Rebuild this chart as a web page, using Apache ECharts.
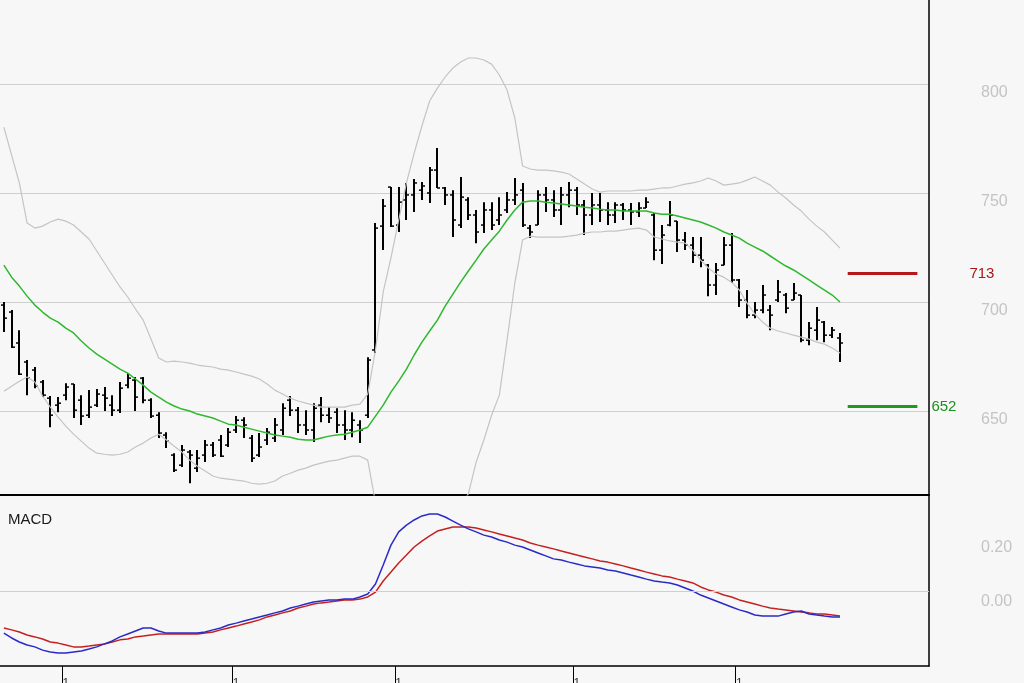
<!DOCTYPE html>
<html><head><meta charset="utf-8">
<script src="https://cdn.jsdelivr.net/npm/echarts@6/dist/echarts.min.js"></script>
<style>html,body{margin:0;padding:0;background:#f7f7f7;overflow:hidden}#c{width:1024px;height:683px}</style>
</head><body><div id="c"></div>
<script>
// [open, close, low, high]
const ohlc = [
[698.6,692.6,686.2,700.0],[695.4,679.3,678.9,696.3],[681.2,666.9,666.5,687.1],[672.5,665.1,657.3,673.4],[668.8,661.4,660.5,670.2],
[663.3,657.3,656.4,664.2],[655.9,648.1,642.6,656.9],[652.7,653.6,649.5,656.4],[657.3,661.0,655.0,662.8],[662.4,650.4,646.8,662.4],
[655.0,647.7,643.6,657.3],[648.1,651.8,646.8,659.6],[652.7,657.8,651.8,660.1],[657.3,655.9,650.0,661.0],[652.7,650.4,647.7,657.3],
[650.4,660.5,649.1,663.3],[661.9,665.1,660.5,667.4],[664.2,656.4,650.0,665.6],[665.1,655.0,653.6,665.6],[655.0,647.7,646.8,655.9],
[648.1,639.9,637.6,649.5],[639.0,636.2,633.0,640.3],[629.8,622.9,622.0,630.7],[625.2,632.1,624.3,634.4],[631.2,629.8,616.9,632.1],
[623.8,628.4,622.0,632.1],[629.8,634.4,626.6,636.7],[634.4,629.8,628.9,635.8],[636.7,629.3,628.9,639.0],[634.4,640.3,633.5,642.2],
[641.3,645.8,639.9,647.7],[645.8,643.6,637.6,647.2],[637.6,628.4,626.6,639.0],[629.8,633.5,628.9,639.9],[636.7,640.3,634.4,642.2],
[637.6,643.6,635.8,646.8],[641.3,651.3,639.0,653.6],[655.0,650.4,647.7,656.9],[650.4,643.6,639.9,651.8],[643.6,641.3,639.0,650.4],
[641.3,651.3,635.8,653.6],[652.7,648.1,644.9,656.4],[648.1,646.8,644.5,651.8],[649.5,643.6,639.9,651.3],[643.6,641.3,636.7,650.4],
[641.3,645.8,638.0,649.5],[643.6,641.3,635.3,645.8],[648.1,673.4,646.8,674.7],[678.0,733.9,676.6,736.2],[734.8,744.0,723.8,747.2],
[752.7,734.8,734.4,752.7],[735.3,745.8,732.1,752.7],[746.8,749.1,737.6,754.6],[749.1,754.6,741.3,756.4],[751.3,753.2,746.8,755.0],
[750.0,760.5,745.4,761.9],[760.5,752.3,752.3,770.6],[752.3,749.1,744.5,752.7],[749.1,737.6,729.8,751.3],[735.3,748.1,733.9,757.3],
[746.8,739.9,737.6,748.1],[739.9,732.1,727.0,742.2],[735.3,742.2,731.6,745.8],[742.2,735.3,733.0,745.8],[737.6,739.9,735.3,748.1],
[742.2,746.8,740.8,750.4],[746.8,749.1,744.5,756.9],[751.3,735.3,734.4,754.6],[733.9,732.1,729.3,735.3],[735.3,749.1,735.3,751.3],
[749.1,746.8,741.3,752.7],[746.8,742.2,739.0,751.3],[742.2,749.1,735.3,752.7],[749.1,751.3,743.5,755.0],[751.3,744.5,739.9,752.7],
[744.5,739.9,730.7,746.8],[739.9,744.5,735.3,750.0],[744.5,742.2,736.7,750.0],[742.2,739.9,735.3,745.8],[739.9,744.5,736.2,745.8],
[744.5,742.2,737.6,745.4],[742.2,741.3,735.3,745.4],[741.3,743.1,739.0,745.8],[743.1,745.8,743.1,748.1],[739.9,723.8,719.2,740.8],
[723.8,730.7,717.4,735.3],[735.3,739.9,734.8,746.3],[737.1,728.4,722.9,737.1],[728.4,726.1,723.8,732.1],[726.1,721.5,717.9,729.8],
[721.5,719.2,716.0,729.8],[716.9,707.8,702.7,717.4],[707.8,714.7,703.2,717.9],[716.9,726.1,716.9,729.8],[726.1,710.1,708.7,731.6],
[710.1,700.9,697.7,710.5],[700.9,694.0,692.6,705.5],[694.0,696.3,692.6,700.0],[696.3,703.2,694.9,707.8],[696.3,694.0,687.1,698.6],
[700.9,704.6,700.0,710.1],[703.2,697.2,694.9,704.1],[700.9,704.1,700.9,708.7],[703.2,682.5,681.6,703.2],[682.5,688.0,680.2,690.8],
[687.1,691.7,682.5,697.7],[690.8,684.8,681.6,691.3],[684.8,687.1,683.5,688.5],[683.5,681.2,672.5,685.8]
];
const ma20 = [716.9,711.4,707.3,702.7,698.6,695.4,692.6,690.8,688.0,685.8,
682.1,678.9,676.1,673.8,671.5,669.2,667.4,664.7,661.9,658.7,
656.4,654.1,652.3,650.9,650.0,648.6,647.7,646.8,645.4,644.0,
643.6,642.6,641.7,640.8,639.9,639.0,638.5,638.0,637.1,636.7,
636.7,637.6,638.5,639.0,639.4,640.3,641.3,642.6,647.7,652.7,
658.7,663.7,669.2,675.7,681.6,686.7,691.7,698.1,703.6,709.1,
714.2,719.2,724.3,728.4,732.5,737.6,742.2,745.8,746.3,746.3,
745.8,745.4,744.9,744.5,744.0,743.5,743.1,742.6,742.2,742.2,
741.7,741.7,741.7,741.7,740.8,740.3,740.3,739.4,738.5,737.6,
736.7,735.3,733.9,732.1,730.7,729.3,727.0,725.2,723.4,721.1,
718.8,716.5,714.7,712.4,710.1,707.8,705.5,703.2,700.0];
const bbUpper = [780.2,767.4,754.6,736.2,733.9,734.8,736.7,738.0,737.1,735.3,
732.1,728.9,723.4,717.9,712.4,706.9,702.3,696.8,691.7,683.0,
674.3,672.5,672.9,672.5,672.0,671.1,670.6,670.2,669.2,668.8,
667.9,666.9,666.0,664.7,662.4,659.6,657.8,655.9,654.6,653.6,
652.7,651.8,651.8,651.8,651.8,652.7,653.2,657.8,678.0,704.6,
720.2,737.6,754.6,768.3,780.7,792.2,798.1,803.2,807.3,810.1,
811.9,811.9,811.0,809.1,804.1,797.2,784.4,762.4,761.0,760.5,
760.5,760.1,759.6,758.7,756.4,754.1,751.8,750.4,750.9,750.9,
750.9,750.9,751.3,751.3,751.8,752.3,752.3,753.2,754.1,754.6,
755.5,756.9,755.5,753.6,754.1,754.6,755.9,757.3,755.5,753.6,
750.4,747.7,744.5,741.7,738.0,734.8,732.1,728.4,724.7];
const bbLower = [659.1,661.4,663.7,665.6,663.3,656.9,651.8,647.2,643.1,639.4,
636.2,633.0,630.7,630.2,629.8,630.2,631.2,633.5,635.3,637.6,
639.4,636.7,633.9,631.2,627.5,624.7,622.5,620.2,619.2,618.8,
618.3,617.9,616.9,616.5,616.9,617.9,620.2,621.5,622.9,623.8,
625.2,626.1,627.0,627.5,628.4,629.3,629.3,627.5,608.0,600.8,
597.0,590.0,584.0,583.0,582.5,581.0,585.0,593.0,600.0,607.0,
612.0,626.5,636.7,648.1,657.3,682.5,708.7,728.4,730.2,729.8,
729.8,729.8,729.8,730.2,730.7,731.6,732.1,732.1,732.5,732.5,
733.0,733.5,733.9,733.0,729.8,728.9,728.0,727.5,727.0,723.8,
719.2,715.6,712.8,711.4,709.1,705.5,699.5,694.5,690.8,688.0,
686.7,685.8,684.8,683.9,683.0,681.6,680.7,678.9,676.6];
const macdLine = [-0.156,-0.174,-0.189,-0.200,-0.207,-0.219,-0.226,-0.230,-0.230,-0.226,
-0.222,-0.215,-0.207,-0.196,-0.185,-0.170,-0.159,-0.148,-0.137,-0.137,
-0.148,-0.156,-0.156,-0.156,-0.156,-0.156,-0.152,-0.144,-0.137,-0.126,
-0.119,-0.111,-0.104,-0.096,-0.089,-0.081,-0.074,-0.063,-0.056,-0.048,
-0.041,-0.037,-0.033,-0.033,-0.030,-0.030,-0.022,-0.011,0.026,0.096,
0.170,0.219,0.244,0.263,0.278,0.285,0.285,0.274,0.259,0.244,
0.230,0.219,0.207,0.200,0.189,0.181,0.170,0.163,0.152,0.141,
0.130,0.119,0.115,0.107,0.100,0.093,0.089,0.085,0.078,0.074,
0.067,0.059,0.052,0.044,0.037,0.033,0.030,0.022,0.011,0.000,
-0.015,-0.026,-0.037,-0.048,-0.059,-0.070,-0.078,-0.089,-0.093,-0.093,
-0.093,-0.085,-0.078,-0.074,-0.085,-0.089,-0.093,-0.096,-0.096];
const signalLine = [-0.137,-0.144,-0.152,-0.163,-0.170,-0.178,-0.189,-0.193,-0.200,-0.207,
-0.207,-0.204,-0.200,-0.196,-0.189,-0.181,-0.178,-0.170,-0.167,-0.163,
-0.159,-0.159,-0.159,-0.159,-0.159,-0.159,-0.156,-0.152,-0.144,-0.137,
-0.130,-0.122,-0.115,-0.107,-0.096,-0.089,-0.081,-0.074,-0.063,-0.056,
-0.048,-0.044,-0.041,-0.037,-0.033,-0.033,-0.030,-0.022,-0.004,0.037,
0.070,0.104,0.133,0.163,0.185,0.204,0.222,0.230,0.237,0.237,
0.237,0.233,0.226,0.219,0.211,0.204,0.196,0.189,0.178,0.170,
0.163,0.156,0.148,0.141,0.133,0.126,0.119,0.111,0.107,0.100,
0.093,0.085,0.078,0.070,0.063,0.056,0.052,0.044,0.037,0.030,
0.015,0.004,-0.004,-0.015,-0.022,-0.033,-0.041,-0.048,-0.056,-0.063,
-0.067,-0.070,-0.074,-0.078,-0.081,-0.085,-0.085,-0.089,-0.093];
const priceTicks = [650, 700, 750, 800];
const macdTicks = [0, 0.2];
const resistance = 713;
const support = 652;
const levelSpan = [109, 118];
const monthTickIdx = [8, 30, 51, 74, 95];
const monthLabels = ['1', '1', '1', '1', '1'];
const nSlots = 120;
const cats = Array.from({length: nSlots}, (_, i) => String(i + 1));

const chart = echarts.init(document.getElementById('c'), null, {renderer: 'canvas'});
const gridColor = '#cfcfcf';
const labelColor = '#c4c4c4';
const bandColor = '#c4c4c4';

function renderOHLC(params, api) {
  const i = api.value(0);
  const o = api.coord([i, api.value(1)]);
  const c = api.coord([i, api.value(2)]);
  const l = api.coord([i, api.value(3)]);
  const h = api.coord([i, api.value(4)]);
  const x = Math.round(h[0]);
  return {type: 'group', children: [
    {type: 'line', shape: {x1: x, y1: h[1], x2: x, y2: l[1]}, style: {stroke: '#000', lineWidth: 2}},
    {type: 'line', shape: {x1: x - 3, y1: o[1], x2: x, y2: o[1]}, style: {stroke: '#000', lineWidth: 1.5}},
    {type: 'line', shape: {x1: x, y1: c[1], x2: x + 3, y2: c[1]}, style: {stroke: '#000', lineWidth: 1.5}}
  ]};
}

// month boundary ticks below the MACD panel
function renderMonthTick(params, api) {
  const p = api.coord([api.value(0), 0]);
  const half = api.size([1, 0])[0] / 2;
  const x = Math.round(p[0] - half) + 0.5;
  const yb = params.coordSys.y + params.coordSys.height;
  return {type: 'line', shape: {x1: x, y1: yb, x2: x, y2: yb + 17}, style: {stroke: '#000', lineWidth: 1}};
}

const lvlLabel = (value, color, dist, padTop) => ({show: true, position: 'end', distance: dist, color: color,
  fontSize: 15, fontFamily: 'Liberation Sans', padding: [padTop, 0, 0, 0], formatter: () => String(value)});

chart.setOption({
  animation: false,
  backgroundColor: '#f7f7f7',
  title: {text: 'MACD', left: 3, top: 507, textStyle: {fontSize: 15, fontWeight: 'normal', color: '#1a1a1a', fontFamily: 'Liberation Sans'}},
  grid: [
    {left: 0, right: 95, top: 0, height: 495, outerBoundsMode: 'none', containLabel: false},
    {left: 0, right: 95, top: 495, height: 171, outerBoundsMode: 'none', containLabel: false}
  ],
  xAxis: [
    {type: 'category', gridIndex: 0, data: cats, boundaryGap: true,
      axisLine: {show: true, onZero: false, lineStyle: {color: '#000', width: 2}}, axisTick: {show: false}, axisLabel: {show: false}, splitLine: {show: false}},
    {type: 'category', gridIndex: 1, data: cats, boundaryGap: true,
      axisLine: {show: true, onZero: false, lineStyle: {color: '#000', width: 1.5}},
      axisTick: {show: false},
      axisLabel: {show: true, interval: (idx) => monthTickIdx.includes(idx), margin: 12, color: '#333', fontSize: 12,
        formatter: (v, idx) => { const k = monthTickIdx.indexOf(idx); return k >= 0 ? monthLabels[k] : ''; }},
      splitLine: {show: false}}
  ],
  yAxis: [
    {type: 'value', gridIndex: 0, position: 'right', min: 611.5, max: 838.5,
      axisLine: {show: true, onZero: false, lineStyle: {color: '#000', width: 1.5}}, axisTick: {show: false}, splitLine: {show: false},
      axisLabel: {margin: 52, color: labelColor, fontSize: 16, lineHeight: 18, fontFamily: 'Liberation Sans', verticalAlign: 'top',
        formatter: v => priceTicks.includes(Math.round(v * 1000) / 1000) ? String(v) : ''}},
    {type: 'value', gridIndex: 1, position: 'right', min: -0.2778, max: 0.3556,
      axisLine: {show: true, onZero: false, lineStyle: {color: '#000', width: 1.5}}, axisTick: {show: false}, splitLine: {show: false},
      axisLabel: {margin: 52, color: labelColor, fontSize: 16, lineHeight: 22, fontFamily: 'Liberation Sans', verticalAlign: 'top',
        formatter: v => { const r = Math.round(v * 1000) / 1000; return macdTicks.includes(r) ? r.toFixed(2) : ''; }}}
  ],
  series: [
    {name: 'BB upper', type: 'line', xAxisIndex: 0, yAxisIndex: 0, data: bbUpper, showSymbol: false, z: 6,
      lineStyle: {color: bandColor, width: 1.2}, silent: true,
      markLine: {silent: true, symbol: ['none', 'none'], label: {show: false}, z: 0,
        lineStyle: {color: gridColor, width: 1, type: 'solid'}, data: priceTicks.map(v => ({yAxis: v}))}},
    {name: 'BB lower', type: 'line', xAxisIndex: 0, yAxisIndex: 0, data: bbLower, showSymbol: false, z: 6,
      lineStyle: {color: bandColor, width: 1.2}, silent: true},
    {name: 'MA', type: 'line', xAxisIndex: 0, yAxisIndex: 0, data: ma20, showSymbol: false, z: 7,
      lineStyle: {color: '#2eb82e', width: 1.5}, silent: true,
      markLine: {silent: true, symbol: ['none', 'none'],
        data: [
          [{coord: [cats[levelSpan[0]], resistance], lineStyle: {color: '#b51a1a', width: 3, type: 'solid'}, label: lvlLabel(resistance, '#a81818', 52, 12)},
           {coord: [cats[levelSpan[1]], resistance]}],
          [{coord: [cats[levelSpan[0]], support], lineStyle: {color: '#1f9a1f', width: 3, type: 'solid'}, label: lvlLabel(support, '#1f8f1f', 14, 11)},
           {coord: [cats[levelSpan[1]], support]}]
        ]}},
    {name: 'OHLC', type: 'custom', xAxisIndex: 0, yAxisIndex: 0, z: 5, renderItem: renderOHLC,
      encode: {x: 0, y: [1, 2, 3, 4]}, data: ohlc.map((d, i) => [i, d[0], d[1], d[2], d[3]])},
    {name: 'Signal', type: 'line', xAxisIndex: 1, yAxisIndex: 1, data: signalLine, showSymbol: false, z: 3,
      lineStyle: {color: '#c42020', width: 1.5}, silent: true,
      markLine: {silent: true, symbol: ['none', 'none'], label: {show: false},
        lineStyle: {color: gridColor, width: 1, type: 'solid'}, data: [{yAxis: 0}]}},
    {name: 'MACD', type: 'line', xAxisIndex: 1, yAxisIndex: 1, data: macdLine, showSymbol: false, z: 4,
      lineStyle: {color: '#2a2ac8', width: 1.5}, silent: true},
    {name: 'Month ticks', type: 'custom', xAxisIndex: 1, yAxisIndex: 1, clip: false, silent: true, z: 8,
      renderItem: renderMonthTick, encode: {x: 0}, data: monthTickIdx.map(i => [i])}
  ]
});
</script></body></html>
